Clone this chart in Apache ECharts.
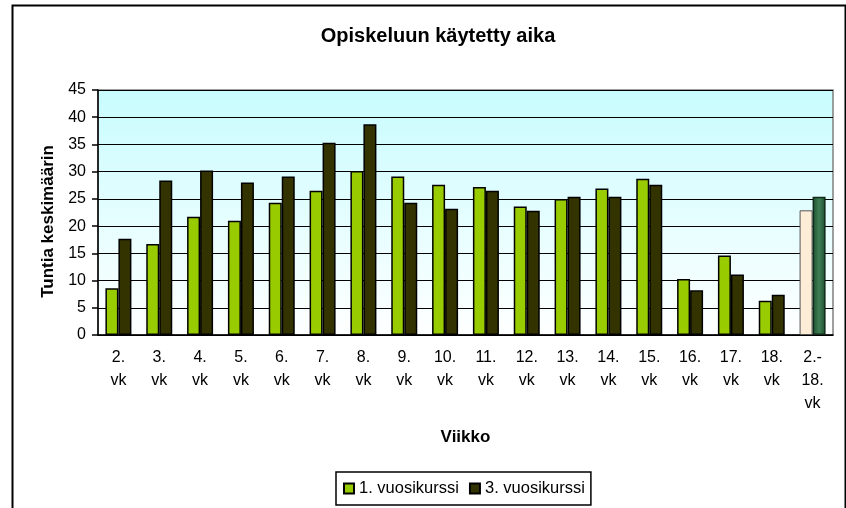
<!DOCTYPE html>
<html><head><meta charset="utf-8">
<script src="https://cdn.jsdelivr.net/npm/echarts@6/dist/echarts.min.js"></script>
<style>html,body{margin:0;padding:0;background:#fff}#c{width:846px;height:508px}</style>
</head><body><div id="c"></div>
<script>
const categories = ['2.\nvk','3.\nvk','4.\nvk','5.\nvk','6.\nvk','7.\nvk','8.\nvk','9.\nvk','10.\nvk','11.\nvk','12.\nvk','13.\nvk','14.\nvk','15.\nvk','16.\nvk','17.\nvk','18.\nvk','2.-\n18.\nvk'];
const year1 = [8.6,16.7,21.7,21.0,24.3,26.5,30.1,29.1,27.6,27.2,23.6,25.0,26.9,28.7,10.3,14.6,6.3,22.9];
const year3 = [17.7,28.4,30.2,28.0,29.1,35.3,38.7,24.3,23.2,26.5,22.8,25.4,25.4,27.6,8.2,11.1,7.4,25.4];
const yTicks = {min:0,max:45,interval:5};

const font = 'Liberation Sans, Arial, sans-serif';
const last = categories.length - 1;
function build(vals, special){
  return vals.map((v,i)=> i===last ? {value:v,itemStyle:special} : {value:v});
}
const chart = echarts.init(document.getElementById('c'));
chart.setOption({
  animation:false,
  title:{text:'Opiskeluun käytetty aika',left:433,textAlign:'center',top:21,
    textStyle:{fontFamily:font,fontSize:20,fontWeight:'bold',color:'#000'}},
  graphic:[{type:'rect',left:10,top:3,shape:{width:833,height:510},
    style:{fill:'none',stroke:'#000',lineWidth:2},silent:true,z:-1}],
  grid:{left:98,right:13,top:90,bottom:173,show:true,borderColor:'#808080',borderWidth:1.5,
    backgroundColor:new echarts.graphic.LinearGradient(0,0,0,1,[{offset:0,color:'#c8fcfe'},{offset:1,color:'#ffffff'}])},
  legend:{left:336,top:472,itemWidth:10,itemHeight:10,itemGap:10,icon:'rect',
    padding:[8,6,8,7],borderColor:'#000',borderWidth:1.5,
    textStyle:{fontFamily:font,fontSize:16.5,color:'#000',padding:[0,0,0,0]},
    data:['1. vuosikurssi','3. vuosikurssi']},
  xAxis:{type:'category',data:categories,
    name:'Viikko',nameLocation:'middle',nameGap:94,
    nameTextStyle:{fontFamily:font,fontSize:17,fontWeight:'bold',color:'#000'},
    axisLine:{lineStyle:{color:'#000',width:1.5}},
    axisTick:{length:6,lineStyle:{color:'#000',width:1.5}},
    axisLabel:{fontFamily:font,fontSize:16,color:'#000',lineHeight:23,margin:11,interval:0}},
  yAxis:{type:'value',min:yTicks.min,max:yTicks.max,interval:yTicks.interval,
    name:'Tuntia keskimäärin',nameLocation:'middle',nameGap:38,
    nameTextStyle:{fontFamily:font,fontSize:17,fontWeight:'bold',color:'#000',padding:[0,18,0,0]},
    axisLine:{show:true,lineStyle:{color:'#000',width:1.5}},
    axisTick:{show:true,length:6,lineStyle:{color:'#000',width:1.5}},
    axisLabel:{fontFamily:font,fontSize:16,color:'#000',margin:12},
    splitLine:{lineStyle:{color:'#000',width:1.2}}},
  series:[
    {name:'1. vuosikurssi',type:'bar',barWidth:13,barGap:'0%',
      data:build(year1,{color:'#fdecd6',borderColor:'#555',borderWidth:1}),
      itemStyle:{color:'#99cc00',borderColor:'#000',borderWidth:1.5}},
    {name:'3. vuosikurssi',type:'bar',barWidth:13,
      data:build(year3,{color:new echarts.graphic.LinearGradient(0,0,1,0,[{offset:0,color:'#1d4f30'},{offset:0.5,color:'#3f7f55'},{offset:1,color:'#1d4f30'}]),borderColor:'#0f2a18',borderWidth:1.5}),
      itemStyle:{color:'#333300',borderColor:'#000',borderWidth:1.5}}
  ]
});
</script></body></html>
